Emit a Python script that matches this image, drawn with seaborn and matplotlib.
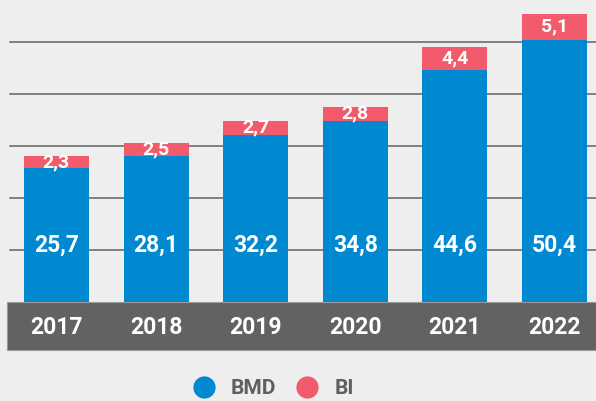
import matplotlib

matplotlib.use("Agg")
import matplotlib.pyplot as plt
import pandas as pd
import seaborn as sns
from matplotlib.lines import Line2D
from matplotlib.patches import Rectangle

years = ["2017", "2018", "2019", "2020", "2021", "2022"]
bmd = [25.7, 28.1, 32.2, 34.8, 44.6, 50.4]
bi = [2.3, 2.5, 2.7, 2.8, 4.4, 5.1]
grid_levels = [10, 20, 30, 40, 50]

BLUE = "#0088d0"
RED = "#f15b6b"
BAND = "#626262"
BG = "#eeeeee"
TEXT_GRAY = "#5f5f5f"


def fmt(v):
    return f"{v:.1f}".replace(".", ",")


df = pd.DataFrame({"year": years, "bmd": bmd, "bi": bi})
df["total"] = df["bmd"] + df["bi"]

sns.set_theme(style="white")
plt.rcParams["font.family"] = ["Roboto", "DejaVu Sans"]
WEIGHT = "bold"

W, H = 596, 401
fig = plt.figure(figsize=(W / 100, H / 100), dpi=100, facecolor=BG)
ax = fig.add_axes([0, 1 - 302 / H, 1, 302 / H])
ax.set_facecolor("none")

for g in grid_levels:
    ax.axhline(g, xmin=10 / W, xmax=1, color="#808080", lw=1.4, zorder=0)

# stacked bars: total first (BI on top), BMD over it
sns.barplot(data=df, x="year", y="total", color=RED, width=0.653,
            saturation=1, linewidth=0, ax=ax, zorder=2)
sns.barplot(data=df, x="year", y="bmd", color=BLUE, width=0.653,
            saturation=1, linewidth=0, ax=ax, zorder=3)

ax.set_xlim(-0.567, 5.417)
ax.set_ylim(0, 58.1)

for i, (m, b) in enumerate(zip(bmd, bi)):
    ax.text(i, 11, fmt(m), ha="center", va="center", color="white",
            fontsize=16.5, fontweight=WEIGHT, zorder=5)
    ax.text(i, m + b / 2, fmt(b), ha="center", va="center", color="white",
            fontsize=14, fontweight=WEIGHT, zorder=5)

ax.set_xlabel("")
ax.set_ylabel("")
ax.set_yticks([])
ax.set_xticks([])
for s in ax.spines.values():
    s.set_visible(False)

# dark band with the year labels
ax.add_patch(Rectangle((7 / W, 1 - 350 / H), 1, 48 / H, transform=fig.transFigure,
                       clip_on=False, facecolor=BAND, edgecolor="#9a9a9a",
                       lw=0.8, zorder=1))
for i, y in enumerate(years):
    ax.text(i, -25 / 302, y, transform=ax.get_xaxis_transform(), ha="center",
            va="center", color="white", fontsize=16.5, fontweight=WEIGHT,
            clip_on=False, zorder=6)

handles = [
    Line2D([], [], marker="o", ls="", markersize=16, markerfacecolor=BLUE,
           markeredgecolor="none", label="BMD"),
    Line2D([], [], marker="o", ls="", markersize=16, markerfacecolor=RED,
           markeredgecolor="none", label="BI"),
]
fig.legend(handles=handles, loc="center", bbox_to_anchor=(0.45, 1 - 389 / H),
           ncol=2, frameon=False, prop={"weight": WEIGHT, "size": 15},
           labelcolor=TEXT_GRAY, handletextpad=0.3, columnspacing=0.5)

fig.savefig("out.png", dpi=100, facecolor=BG)
